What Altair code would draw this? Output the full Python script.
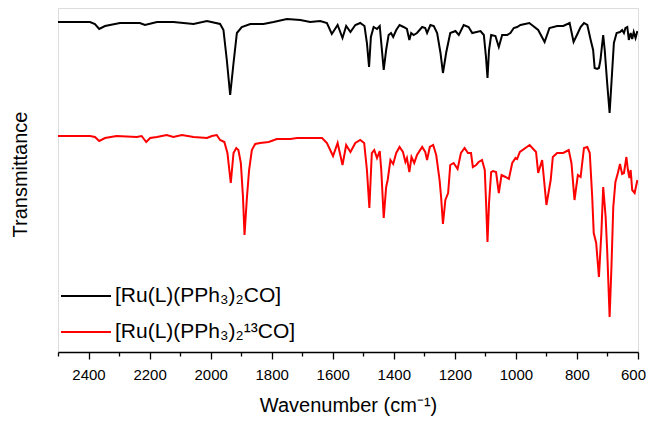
import altair as alt
import pandas as pd

# Wavenumbers (cm-1) and offset transmittance (arbitrary units)
wn_co = [2500, 2450, 2395, 2379, 2365, 2346, 2297, 2232, 2215, 2176, 2122, 2056, 2012, 1969, 1958,
         1947, 1936, 1925, 1914, 1898, 1870, 1827, 1794, 1750, 1706, 1674, 1641, 1619, 1603, 1584,
         1568, 1556, 1542, 1526, 1510, 1496, 1488, 1481, 1475, 1466, 1455, 1446, 1441, 1433, 1425,
         1417, 1409, 1402, 1392, 1381, 1368, 1357, 1349, 1343, 1335, 1324, 1307, 1297, 1291, 1280,
         1269, 1258, 1247, 1239, 1228, 1215, 1198, 1187, 1171, 1155, 1143, 1116, 1105, 1098, 1093,
         1088, 1081, 1067, 1056, 1045, 1029, 1018, 1007, 996, 985, 956, 927, 906, 890, 865, 845,
         824, 811, 797, 788, 777, 766, 755, 747, 742, 734, 728, 723, 717, 714, 709, 701, 693, 687,
         679, 670, 659, 652, 646, 641, 635, 630, 624, 619, 614, 608, 602]
t_co = [330, 330, 330, 328, 323, 326, 329, 329, 327, 330, 330, 328, 331, 328, 322,
        292, 257, 289, 319, 325, 328, 328, 330, 333, 332, 330, 331, 329, 318, 327,
        314, 326, 320, 327, 329, 326, 309, 285, 315, 325, 323, 326, 309, 282, 302,
        317, 319, 315, 322, 327, 325, 323, 312, 319, 317, 319, 325, 324, 319, 327,
        326, 319, 299, 279, 300, 319, 321, 317, 327, 325, 319, 321, 317, 295, 274,
        302, 317, 316, 305, 317, 317, 319, 324, 325, 327, 329, 322, 310, 324, 326, 326,
        329, 310, 319, 325, 329, 327, 312, 302, 284, 283, 284, 292, 309, 317, 302, 269, 239, 269,
        309, 319, 320, 322, 319, 324, 325, 312, 319, 313, 320, 314, 321]

wn_13co = [2500, 2450, 2395, 2379, 2365, 2346, 2308, 2242, 2226, 2211, 2198, 2176, 2144, 2122, 2094,
           2056, 2012, 1996, 1980, 1969, 1955, 1945, 1934, 1925, 1916, 1909, 1901, 1894, 1889, 1881,
           1874, 1865, 1854, 1838, 1810, 1783, 1739, 1717, 1674, 1635, 1619, 1599, 1584, 1568, 1556,
           1542, 1526, 1510, 1497, 1488, 1480, 1472, 1464, 1455, 1446, 1441, 1433, 1425, 1420, 1411,
           1402, 1392, 1381, 1370, 1362, 1357, 1349, 1342, 1333, 1324, 1307, 1297, 1291, 1282, 1271,
           1261, 1250, 1245, 1239, 1231, 1222, 1215, 1204, 1191, 1180, 1168, 1157, 1147, 1141, 1130,
           1122, 1111, 1102, 1098, 1093, 1088, 1081, 1075, 1065, 1056, 1047, 1034, 1023, 1012, 1001,
           996, 987, 955, 934, 927, 914, 900, 886, 879, 865, 845, 827, 818, 808, 797, 788, 777, 766,
           758, 750, 745, 737, 728, 720, 714, 706, 701, 693, 687, 681, 674, 666, 659, 652, 646, 638,
           633, 628, 624, 619, 611, 602]
t_13co = [216, 216, 216, 215, 211, 214, 216, 215, 216, 210, 214, 215, 217, 215, 217,
          215, 214, 216, 217, 212, 210, 199, 169, 199, 204, 202, 189, 155, 117, 155,
          182, 202, 208, 209, 210, 213, 213, 214, 214, 214, 209, 196, 209, 187, 207,
          200, 209, 212, 209, 182, 144, 199, 202, 194, 201, 182, 134, 165, 172, 192,
          188, 199, 205, 200, 190, 194, 180, 195, 189, 197, 205, 200, 192, 205, 207,
          197, 172, 155, 128, 152, 159, 187, 189, 183, 199, 204, 199, 199, 185, 187,
          190, 192, 182, 152, 110, 149, 180, 181, 180, 159, 177, 175, 173, 189, 194,
          193, 200, 207, 200, 179, 192, 147, 172, 195, 199, 199, 202, 189, 152, 177, 175, 204, 205,
          199, 155, 119, 109, 75, 119, 165, 135, 102, 35, 85, 145, 170, 179, 188, 178, 179, 195,
          182, 174, 182, 162, 159, 172]

name_co = "[Ru(L)(PPh\u2083)\u2082CO]"
name_13co = "[Ru(L)(PPh\u2083)\u2082\u00b9\u00b3CO]"
series_names = [name_co, name_13co]
series_colors = ["#000000", "#ff0000"]

x_ticks = list(range(600, 2501, 100))

df = pd.concat([
    pd.DataFrame({"wn": wn_co, "t": t_co, "s": name_co, "o": range(len(wn_co))}),
    pd.DataFrame({"wn": wn_13co, "t": t_13co, "s": name_13co, "o": range(len(wn_13co))}),
])

FONT = "Liberation Sans"

chart = alt.Chart(df).mark_line(strokeWidth=2, clip=True).encode(
    x=alt.X("wn:Q",
            scale=alt.Scale(domain=[600, 2500], reverse=True, nice=False, zero=False),
            axis=alt.Axis(values=x_ticks,
                          labelExpr="datum.value % 200 === 0 ? datum.label : ''",
                          format="d",
                          grid=False,
                          domainColor="#000000", domainWidth=1.3,
                          tickColor="#000000", tickWidth=1.3,
                          tickSize={"condition": {"test": "datum.value % 200 === 0", "value": 7}, "value": 4},
                          labelOffset={"condition": {"test": "datum.value === 600", "value": -5}, "value": 0},
                          labelFont=FONT, labelFontSize=15, labelColor="#000000", labelPadding=8,
                          labelFlush=False, labelOverlap=False,
                          title="Wavenumber (cm\u207b\u00b9)",
                          titleFont=FONT, titleFontSize=20, titleFontWeight="normal",
                          titleColor="#000000", titlePadding=13)),
    y=alt.Y("t:Q",
            scale=alt.Scale(domain=[0, 344], nice=False, zero=False),
            axis=alt.Axis(labels=False, ticks=False, domain=False, grid=False,
                          title="Transmittance",
                          titleFont=FONT, titleFontSize=20, titleFontWeight="normal",
                          titleColor="#000000", titleX=-32, titleY=166,
                          titleBaseline="alphabetic")),
    color=alt.Color("s:N",
                    scale=alt.Scale(domain=series_names, range=series_colors),
                    legend=alt.Legend(title=None, orient="none", legendX=2, legendY=262,
                                      symbolType="stroke", symbolSize=2500, symbolStrokeWidth=2,
                                      labelFont=FONT, labelFontSize=21, labelColor="#000000",
                                      labelLimit=500,
                                      labelOffset=3, rowPadding=-8, padding=0)),
    order="o:Q",
).properties(
    width=580, height=344,
    padding={"left": 50, "top": 0, "right": 8, "bottom": 66},
    autosize=alt.AutoSizeParams(type="none"),
).configure_view(stroke=None).configure(background="#ffffff")

chart.save("out.html", embed_options={"renderer": "svg", "actions": False})
